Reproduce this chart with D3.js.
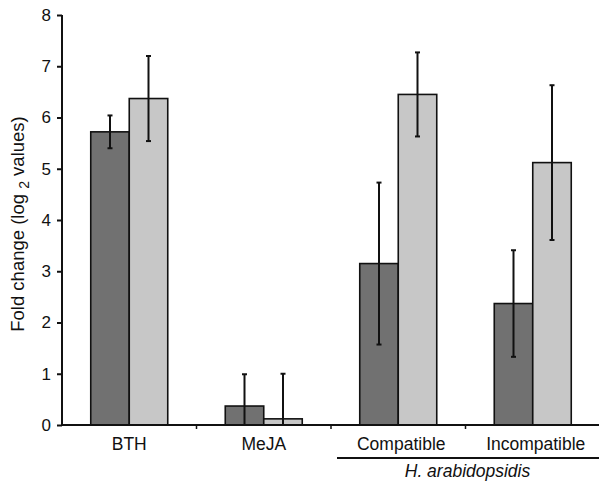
<!DOCTYPE html>
<html>
<head>
<meta charset="utf-8">
<script src="https://cdn.jsdelivr.net/npm/d3@7"></script>
<style>
  body { margin: 0; background: #fff; }
  text { font-family: "Liberation Sans", Arial, sans-serif; fill: #111; }
</style>
</head>
<body>
<svg id="chart" width="599" height="481"></svg>
<script>
// values
let categories = ["BTH", "MeJA", "Compatible", "Incompatible"];
let seriesDark = [5.72, 0.37, 3.15, 2.37];
let errDark = [0.32, 0.62, 1.58, 1.04];
let seriesLight = [6.37, 0.12, 6.45, 5.12];
let errLight = [0.83, 0.88, 0.82, 1.51];
let yTicks = [0, 1, 2, 3, 4, 5, 6, 7, 8];
let groupLabel = "H. arabidopsidis";

let svg = d3.select("#chart");

let plotLeft = 62, plotRight = 600, plotTop = 15, plotBottom = 425;

let x = d3.scaleBand()
    .domain(categories)
    .range([plotLeft, plotRight])
    .paddingInner(0.4275)
    .paddingOuter(0.4275 / 2);

let sub = d3.scaleBand()
    .domain(["dark", "light"])
    .range([0, x.bandwidth()]);

let y = d3.scaleLinear()
    .domain([0, 8])
    .range([plotBottom, plotTop]);

let rows = categories.map((c, i) => {
    return [
        { cat: c, key: "dark", v: seriesDark[i], e: errDark[i], fill: "#717171" },
        { cat: c, key: "light", v: seriesLight[i], e: errLight[i], fill: "#c7c7c7" }
    ];
}).flat();

// bars
svg.selectAll("rect.bar")
    .data(rows)
    .enter()
    .append("rect")
    .attr("class", "bar")
    .attr("x", d => x(d.cat) + sub(d.key))
    .attr("y", d => y(d.v))
    .attr("width", sub.bandwidth())
    .attr("height", d => y(0) - y(d.v))
    .attr("fill", d => d.fill)
    .attr("stroke", "#111")
    .attr("stroke-width", 1.6);

// error bars
let cx = d => x(d.cat) + sub(d.key) + sub.bandwidth() / 2;
let eb = svg.append("g").attr("stroke", "#111").attr("stroke-width", 2);
eb.selectAll("line.stem")
    .data(rows)
    .enter()
    .append("line")
    .attr("x1", cx).attr("x2", cx)
    .attr("y1", d => y(d.v + d.e))
    .attr("y2", d => y(Math.max(0, d.v - d.e)));
eb.selectAll("line.capTop")
    .data(rows)
    .enter()
    .append("line")
    .attr("x1", d => cx(d) - 2.5).attr("x2", d => cx(d) + 2.5)
    .attr("y1", d => y(d.v + d.e)).attr("y2", d => y(d.v + d.e));
eb.selectAll("line.capBot")
    .data(rows.filter(d => d.v - d.e > 0))
    .enter()
    .append("line")
    .attr("x1", d => cx(d) - 2.5).attr("x2", d => cx(d) + 2.5)
    .attr("y1", d => y(d.v - d.e)).attr("y2", d => y(d.v - d.e));

// y axis
let yAxis = d3.axisLeft(y).tickValues(yTicks).tickSize(5).tickPadding(6);
let gy = svg.append("g")
    .attr("transform", `translate(${plotLeft},0)`)
    .call(yAxis);
gy.select(".domain").attr("stroke", "#111").attr("stroke-width", 2).attr("d", `M0,${plotTop}V${plotBottom}`);
gy.selectAll(".tick line").attr("stroke", "#111").attr("stroke-width", 2);
gy.selectAll("text").style("font-size", "17px").attr("fill", "#111")
    .style("font-family", "'Liberation Sans', Arial, sans-serif");

// x axis baseline with separator ticks between groups
svg.append("line")
    .attr("x1", plotLeft).attr("x2", plotRight)
    .attr("y1", plotBottom).attr("y2", plotBottom)
    .attr("stroke", "#111").attr("stroke-width", 2);
let seps = categories.slice(1).map(c => x(c) - x.step() * x.paddingInner() / 2);
svg.selectAll("line.sep")
    .data(seps)
    .enter()
    .append("line")
    .attr("x1", d => d).attr("x2", d => d)
    .attr("y1", plotBottom).attr("y2", plotBottom + 4)
    .attr("stroke", "#111").attr("stroke-width", 1.5);

// category labels
svg.selectAll("text.cat")
    .data(categories)
    .enter()
    .append("text")
    .attr("class", "cat")
    .attr("x", (d, i) => x(d) + x.bandwidth() / 2 + (i > 1 ? 3 : 0))
    .attr("y", 450)
    .attr("text-anchor", "middle")
    .style("font-size", "17.5px")
    .text(d => d);

// group bracket for pathogen
let gStart = x("Compatible") - x.step() * x.paddingInner() / 2 + 6;
svg.append("line")
    .attr("x1", gStart).attr("x2", 599)
    .attr("y1", 458).attr("y2", 458)
    .attr("stroke", "#111").attr("stroke-width", 2);
svg.append("text")
    .attr("x", (x("Compatible") + x("Incompatible") + x.bandwidth()) / 2 + 2)
    .attr("y", 477)
    .attr("text-anchor", "middle")
    .style("font-size", "17.5px")
    .style("font-style", "italic")
    .text(groupLabel);

// y title with subscript
let yt = svg.append("text")
    .attr("transform", `translate(24,224) rotate(-90)`)
    .attr("text-anchor", "middle")
    .style("font-size", "18.5px");
yt.append("tspan").text("Fold change (log ");
yt.append("tspan").attr("dy", 5).style("font-size", "14px").text("2");
yt.append("tspan").attr("dy", -5).text(" values)");
</script>
</body>
</html>
